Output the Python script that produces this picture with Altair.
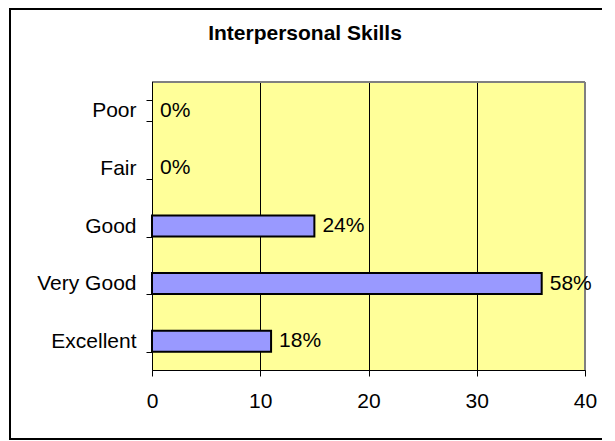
import altair as alt
import pandas as pd

categories = ["Poor", "Fair", "Good", "Very Good", "Excellent"]
counts = [0, 0, 15, 36, 11]
pct_labels = ["0%", "0%", "24%", "58%", "18%"]
x_ticks = [0, 10, 20, 30, 40]
title_text = ["Interpersonal Skills"]

df = pd.DataFrame({"cat": categories, "n": counts, "pct": pct_labels})
one = pd.DataFrame({"t": title_text})

W, H = 433, 288
FONT = "Liberation Sans"

y_enc = alt.Y(
    "cat:N", sort=categories, title=None,
    scale=alt.Scale(domain=categories, paddingInner=0.635, paddingOuter=0.3175),
    axis=alt.Axis(tickBand="extent", tickSize=6, tickColor="black", tickWidth=1,
                  domainColor="black", domainWidth=1, labelFontSize=21, labelFont=FONT,
                  labelColor="black", labelPadding=10, grid=False),
)
x_enc = alt.X(
    "n:Q", title=None, scale=alt.Scale(domain=[0, 40], nice=False),
    axis=alt.Axis(values=x_ticks, tickSize=6, tickColor="black", tickWidth=1,
                  domainColor="black", domainWidth=1, labelFontSize=21, labelFont=FONT,
                  labelColor="black", labelPadding=14, labelFlush=False,
                  grid=True, gridColor="black", gridOpacity=1, gridWidth=1),
)

bars = alt.Chart(df).transform_filter("datum.n > 0").mark_bar(
    fill="#9999FF", stroke="black", strokeWidth=2, opacity=1
).encode(x=x_enc, y=y_enc)

labels = alt.Chart(df).mark_text(
    align="left", baseline="middle", dx=8, fontSize=21, font=FONT, color="black"
).encode(x=alt.X("n:Q"), y=alt.Y("cat:N", sort=categories), text="pct:N")

plot_top = alt.Chart(one).mark_rule(color="#808080", strokeWidth=2).encode(
    x=alt.value(0), x2=alt.value(W), y=alt.value(0))
plot_right = alt.Chart(one).mark_rule(color="#808080", strokeWidth=2).encode(
    x=alt.value(W), y=alt.value(0), y2=alt.value(H))
y_line = alt.Chart(one).mark_rule(color="black", strokeWidth=1).encode(
    x=alt.value(0.5), y=alt.value(0), y2=alt.value(H))

b_left = alt.Chart(one).mark_rule(color="black", strokeWidth=2).encode(
    x=alt.value(-142), y=alt.value(-73), y2=alt.value(357))
b_top = alt.Chart(one).mark_rule(color="black", strokeWidth=2).encode(
    x=alt.value(-143), x2=alt.value(450), y=alt.value(-73))
b_bot = alt.Chart(one).mark_rule(color="black", strokeWidth=2).encode(
    x=alt.value(-143), x2=alt.value(450), y=alt.value(357))

title = alt.Chart(one).mark_text(
    align="center", baseline="middle", fontSize=21, font=FONT, fontWeight="bold", color="black"
).encode(text="t:N", x=alt.value(153), y=alt.value(-48))

chart = alt.layer(
    b_left, b_top, b_bot, plot_top, plot_right, y_line, bars, labels, title
).properties(
    width=W, height=H, padding=0, background="white"
).configure_view(fill="#FFFF99", strokeWidth=0)

chart.save("out.html", embed_options={"renderer": "svg", "actions": False})
